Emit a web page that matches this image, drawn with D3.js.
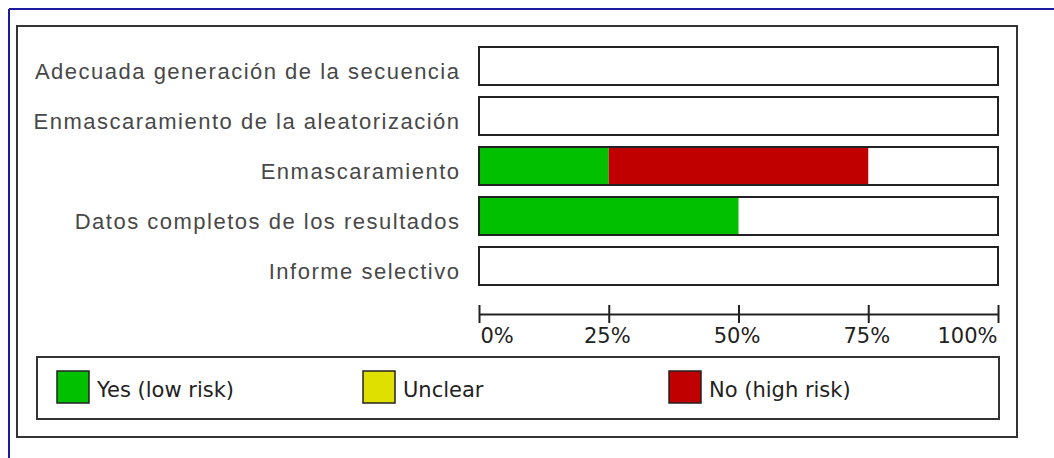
<!DOCTYPE html>
<html><head><meta charset="utf-8">
<script src="https://cdn.jsdelivr.net/npm/d3@7"></script>
<style>
html,body{margin:0;padding:0;background:#fff;}
svg{display:block;}
</style></head>
<body>
<svg id="chart" width="1054" height="458"></svg>
<script>
const categories = [
  "Adecuada generación de la secuencia",
  "Enmascaramiento de la aleatorización",
  "Enmascaramiento",
  "Datos completos de los resultados",
  "Informe selectivo"
];
const yesLowRisk = [0, 0, 25, 50, 0];
const unclear = [0, 0, 0, 0, 0];
const noHighRisk = [0, 0, 50, 0, 0];
const tickValues = [0, 25, 50, 75, 100];
const tickLabels = ["0%", "25%", "50%", "75%", "100%"];
const legendLabels = ["Yes (low risk)", "Unclear", "No (high risk)"];
const colors = ["#00c000", "#e0e000", "#c00000"];

const svg = d3.select("#chart");

// outer blue frame
svg.append("line").attr("x1",9).attr("x2",9).attr("y1",9).attr("y2",458)
  .attr("stroke","#1c1c9c").attr("stroke-width",2);
svg.append("line").attr("x1",9).attr("x2",1054).attr("y1",9).attr("y2",9)
  .attr("stroke","#1c1c9c").attr("stroke-width",2);

// outer chart box
svg.append("rect").attr("x",17).attr("y",26).attr("width",1000).attr("height",411)
  .attr("fill","#fff").attr("stroke","#333").attr("stroke-width",2);

const x = d3.scaleLinear().domain([0,100]).range([479,998]);
const y = d3.scaleBand().domain(categories).range([41,291]).paddingInner(0.24).paddingOuter(0.12);

const rows = categories.map((c,i)=>({cat:c, parts:[yesLowRisk[i], unclear[i], noHighRisk[i]]}));

const LS = 1.5;
const g = svg.append("g");
rows.forEach(r=>{
  let acc = 0;
  r.parts.forEach((v,k)=>{
    if (v>0){
      g.append("rect").attr("x",x(acc)).attr("y",y(r.cat))
        .attr("width",x(acc+v)-x(acc)).attr("height",y.bandwidth())
        .attr("fill",colors[k]);
    }
    acc += v;
  });
  g.append("rect").attr("x",x(0)).attr("y",y(r.cat))
    .attr("width",x(100)-x(0)).attr("height",y.bandwidth())
    .attr("fill","none").attr("stroke","#222").attr("stroke-width",2);
  g.append("text").attr("x",459+LS).attr("y",y(r.cat)+y.bandwidth()/2+13)
    .attr("text-anchor","end")
    .attr("font-family","Liberation Sans, Arial, sans-serif").attr("font-size",22)
    .attr("letter-spacing",LS)
    .attr("fill","#484848").text(r.cat);
});

// axis
const axis = d3.axisBottom(x).tickValues(tickValues)
  .tickFormat((d,i)=>tickLabels[i]).tickSize(9).tickSizeOuter(0);
const ax = svg.append("g").attr("transform","translate(0,314)").call(axis);
ax.select(".domain").attr("stroke","#222").attr("stroke-width",2);
ax.selectAll(".tick line").attr("y1",-9).attr("y2",9).attr("stroke","#222").attr("stroke-width",2);
ax.selectAll(".tick text")
  .attr("y",29).attr("dy",0)
  .attr("font-family","DejaVu Sans, sans-serif").attr("font-size",21)
  .attr("fill","#222")
  .attr("text-anchor",(d,i)=> i===0 ? "start" : (i===tickValues.length-1 ? "end" : "middle"))
  .attr("dx",(d,i)=> i===0 ? 1 : (i===tickValues.length-1 ? -1 : -2));

// legend
svg.append("rect").attr("x",37).attr("y",357).attr("width",962).attr("height",62)
  .attr("fill","#fff").attr("stroke","#333").attr("stroke-width",2);
const legendX = [57, 363, 669];
legendLabels.forEach((l,i)=>{
  svg.append("rect").attr("x",legendX[i]).attr("y",371).attr("width",32).attr("height",32)
    .attr("fill",colors[i]).attr("stroke","#222").attr("stroke-width",1.5);
  svg.append("text").attr("x",legendX[i]+40).attr("y",397)
    .attr("font-family","DejaVu Sans, sans-serif").attr("font-size",21)
    .attr("fill","#222").text(l);
});
</script>
</body></html>
